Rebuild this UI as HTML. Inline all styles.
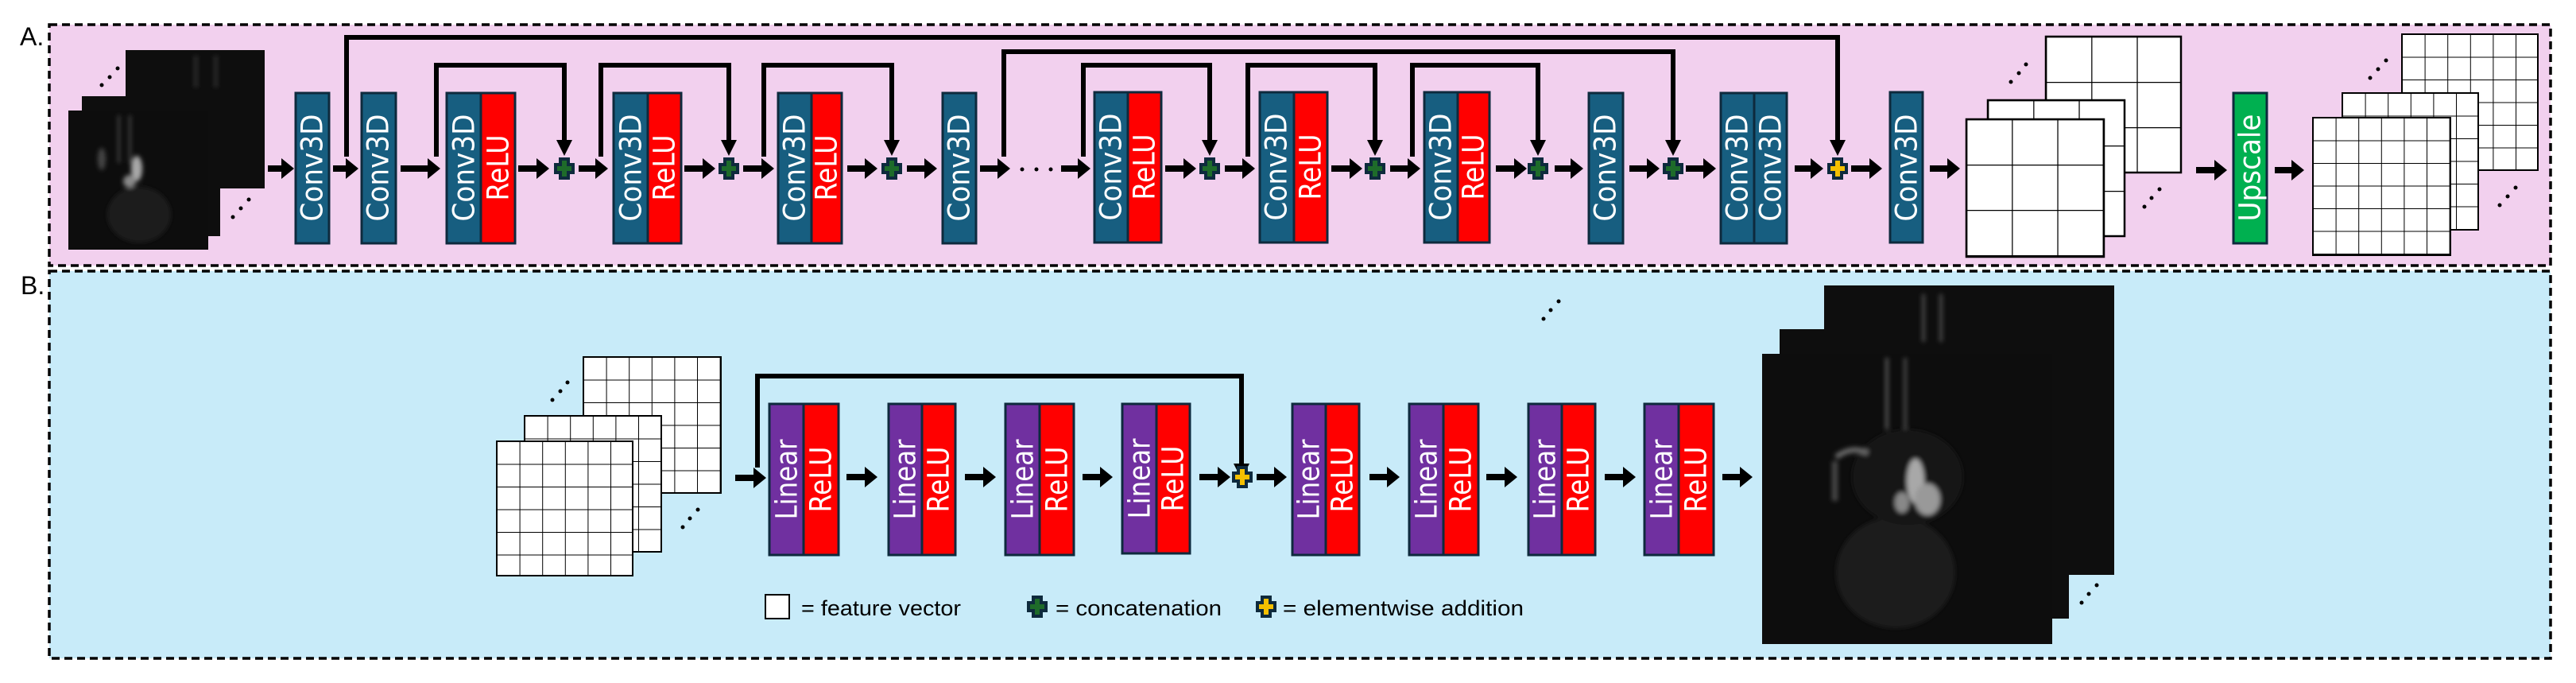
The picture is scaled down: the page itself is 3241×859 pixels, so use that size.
<!DOCTYPE html>
<html><head><meta charset="utf-8"><style>
html,body{margin:0;padding:0;background:#fff;}
svg{display:block;}
.bt{font-family:"DejaVu Sans","Liberation Sans",sans-serif;font-size:37px;fill:#fff;}
.lg{font-family:"Liberation Sans Narrow","Liberation Sans",sans-serif;font-size:27px;fill:#000;}
</style></head><body>
<svg width="3241" height="859" viewBox="0 0 3241 859" xmlns="http://www.w3.org/2000/svg">
<defs>
<marker id="ah" markerUnits="userSpaceOnUse" markerWidth="16" markerHeight="26" refX="0" refY="13" orient="auto"><path d="M0,0 L16,13 L0,26 z" fill="#000"/></marker>
<marker id="ad" markerUnits="userSpaceOnUse" markerWidth="20" markerHeight="20" refX="0" refY="10" orient="auto"><path d="M0,0 L20,10 L0,20 z" fill="#000"/></marker>
<g id="pg"><rect x="-7" y="-14" width="14" height="28" fill="#0e2a3d"/><rect x="-13" y="-7" width="26" height="14" fill="#0e2a3d"/><rect x="-3" y="-10" width="6" height="20" fill="#1e6b2a"/><rect x="-9" y="-3" width="18" height="6" fill="#1e6b2a"/></g>
<g id="py"><rect x="-7" y="-14" width="14" height="28" fill="#0e2a3d"/><rect x="-13" y="-7" width="26" height="14" fill="#0e2a3d"/><rect x="-3" y="-10" width="6" height="20" fill="#f5c000"/><rect x="-9" y="-3" width="18" height="6" fill="#f5c000"/></g>
<pattern id="g3" patternUnits="userSpaceOnUse" width="57.2" height="57"><path d="M0 0H57.2M0 0V57" stroke="#000" stroke-width="2.5" fill="none"/></pattern>
<pattern id="g6" patternUnits="userSpaceOnUse" width="28.6" height="28.5"><path d="M0 0H28.6M0 0V28.5" stroke="#000" stroke-width="2" fill="none"/></pattern>
<filter id="bl"><feGaussianBlur stdDeviation="3"/></filter>
</defs>

<!-- panels -->
<rect x="62" y="31" width="3147" height="303" fill="#f2d0ee" stroke="#000" stroke-width="3.5" stroke-dasharray="10 6"/>
<rect x="62" y="341" width="3147" height="487" fill="#c8ebf9" stroke="#000" stroke-width="3.5" stroke-dasharray="10 6"/>
<text x="25" y="57" font-family="Liberation Sans Narrow, Liberation Sans, sans-serif" font-size="32">A.</text>
<text x="26" y="370" font-family="Liberation Sans, sans-serif" font-size="32">B.</text>

<!-- Panel A input MRI stack -->
<rect x="158" y="63" width="175" height="174" fill="#0e0e0e"/>
<rect x="103" y="121" width="174" height="176" fill="#0e0e0e"/>
<rect x="86" y="139" width="176" height="175" fill="#0d0d0d"/>
<g filter="url(#bl)">
<ellipse cx="175" cy="270" rx="40" ry="35" fill="#1b1b1b"/>
<ellipse cx="172" cy="212" rx="7" ry="16" fill="#a8a8a8"/>
<ellipse cx="163" cy="228" rx="8" ry="8" fill="#888"/>
<rect x="148" y="145" width="3" height="60" fill="#444"/>
<rect x="162" y="145" width="3" height="60" fill="#444"/>
<rect x="245" y="70" width="3" height="40" fill="#3a3a3a"/>
<rect x="270" y="70" width="3" height="40" fill="#3a3a3a"/>
<ellipse cx="128" cy="200" rx="5" ry="14" fill="#444"/>
</g>
<circle cx="128" cy="107" r="2.5"/><circle cx="138" cy="97" r="2.5"/><circle cx="148" cy="86" r="2.5"/>
<circle cx="293" cy="273" r="2.5"/><circle cx="303" cy="262" r="2.5"/><circle cx="313" cy="251" r="2.5"/>

<!-- skip connections panel A -->
<g fill="none" stroke="#000" stroke-width="6">
<path d="M436 197V47H2312V176" marker-end="url(#ad)"/>
<path d="M1263 197V65H2105V176" marker-end="url(#ad)"/>
<path d="M549 197V82H710V176" marker-end="url(#ad)"/>
<path d="M756 197V82H917V176" marker-end="url(#ad)"/>
<path d="M961 197V82H1122V176" marker-end="url(#ad)"/>
<path d="M1363 197V82H1522V176" marker-end="url(#ad)"/>
<path d="M1570 197V82H1730V176" marker-end="url(#ad)"/>
<path d="M1777 197V82H1935V176" marker-end="url(#ad)"/>
</g>

<!-- arrows panel A -->
<g stroke="#000" stroke-width="8" marker-end="url(#ah)">
<line x1="337" y1="212" x2="354" y2="212"/>
<line x1="419" y1="212" x2="435" y2="212"/>
<line x1="504" y1="212" x2="538" y2="212"/>
<line x1="652" y1="212" x2="675" y2="212"/>
<line x1="728" y1="212" x2="749" y2="212"/>
<line x1="861" y1="212" x2="884" y2="212"/>
<line x1="935" y1="212" x2="958" y2="212"/>
<line x1="1066" y1="212" x2="1088" y2="212"/>
<line x1="1141" y1="212" x2="1163" y2="212"/>
<line x1="1233" y1="212" x2="1255" y2="212"/>
<line x1="1335" y1="212" x2="1356" y2="212"/>
<line x1="1466" y1="212" x2="1489" y2="212"/>
<line x1="1541" y1="212" x2="1563" y2="212"/>
<line x1="1675" y1="212" x2="1698" y2="212"/>
<line x1="1749" y1="212" x2="1771" y2="212"/>
<line x1="1882" y1="212" x2="1905" y2="212"/>
<line x1="1956" y1="212" x2="1976" y2="212"/>
<line x1="2050" y1="212" x2="2072" y2="212"/>
<line x1="2121" y1="212" x2="2143" y2="212"/>
<line x1="2258" y1="212" x2="2278" y2="212"/>
<line x1="2329" y1="212" x2="2352" y2="212"/>
<line x1="2428" y1="212" x2="2450" y2="212"/>
<line x1="2763" y1="214" x2="2786" y2="214"/>
<line x1="2862" y1="214" x2="2883" y2="214"/>
</g>
<circle cx="1286" cy="213" r="2.5"/><circle cx="1304" cy="213" r="2.5"/><circle cx="1322" cy="213" r="2.5"/>

<!-- plus signs A -->
<use href="#pg" transform="translate(710,212)"/>
<use href="#pg" transform="translate(917,212)"/>
<use href="#pg" transform="translate(1122,212)"/>
<use href="#pg" transform="translate(1522,212)"/>
<use href="#pg" transform="translate(1730,212)"/>
<use href="#pg" transform="translate(1935,212)"/>
<use href="#pg" transform="translate(2105,212)"/>
<use href="#py" transform="translate(2312,212)"/>

<!-- Conv3D single blocks -->
<g>
<rect x="372" y="117" width="42" height="189" fill="#175e80" stroke="#0e2a3d" stroke-width="3"/>
<text class="bt" text-anchor="middle" dominant-baseline="central" textLength="135" lengthAdjust="spacingAndGlyphs" transform="translate(393,211) rotate(-90)">Conv3D</text>
<rect x="455" y="117" width="43" height="189" fill="#175e80" stroke="#0e2a3d" stroke-width="3"/>
<text class="bt" text-anchor="middle" dominant-baseline="central" textLength="135" lengthAdjust="spacingAndGlyphs" transform="translate(476,211) rotate(-90)">Conv3D</text>
<rect x="1186" y="117" width="42" height="189" fill="#175e80" stroke="#0e2a3d" stroke-width="3"/>
<text class="bt" text-anchor="middle" dominant-baseline="central" textLength="135" lengthAdjust="spacingAndGlyphs" transform="translate(1207,211) rotate(-90)">Conv3D</text>
<rect x="1999" y="117" width="43" height="189" fill="#175e80" stroke="#0e2a3d" stroke-width="3"/>
<text class="bt" text-anchor="middle" dominant-baseline="central" textLength="135" lengthAdjust="spacingAndGlyphs" transform="translate(2020,211) rotate(-90)">Conv3D</text>
<rect x="2378" y="116" width="41" height="189" fill="#175e80" stroke="#0e2a3d" stroke-width="3"/>
<text class="bt" text-anchor="middle" dominant-baseline="central" textLength="135" lengthAdjust="spacingAndGlyphs" transform="translate(2399,211) rotate(-90)">Conv3D</text>
<rect x="2165" y="117" width="42" height="189" fill="#175e80" stroke="#0e2a3d" stroke-width="3"/>
<text class="bt" text-anchor="middle" dominant-baseline="central" textLength="135" lengthAdjust="spacingAndGlyphs" transform="translate(2186,211) rotate(-90)">Conv3D</text>
<rect x="2207" y="117" width="41" height="189" fill="#175e80" stroke="#0e2a3d" stroke-width="3"/>
<text class="bt" text-anchor="middle" dominant-baseline="central" textLength="135" lengthAdjust="spacingAndGlyphs" transform="translate(2228,211) rotate(-90)">Conv3D</text>
<rect x="2810" y="117" width="42" height="189" fill="#00b050" stroke="#0e2a3d" stroke-width="3"/>
<text class="bt" text-anchor="middle" dominant-baseline="central" textLength="135" lengthAdjust="spacingAndGlyphs" transform="translate(2831,211) rotate(-90)">Upscale</text>
</g>

<!-- Conv3D+ReLU blocks -->
<g>
<rect x="562" y="117" width="43" height="189" fill="#175e80" stroke="#0e2a3d" stroke-width="3"/><rect x="605" y="117" width="43" height="189" fill="#ff0000" stroke="#0e2a3d" stroke-width="3"/>
<text class="bt" text-anchor="middle" dominant-baseline="central" textLength="135" lengthAdjust="spacingAndGlyphs" transform="translate(584,211) rotate(-90)">Conv3D</text><text class="bt" text-anchor="middle" dominant-baseline="central" textLength="83" lengthAdjust="spacingAndGlyphs" transform="translate(627,211) rotate(-90)">ReLU</text>
<rect x="772" y="117" width="43" height="189" fill="#175e80" stroke="#0e2a3d" stroke-width="3"/><rect x="815" y="117" width="42" height="189" fill="#ff0000" stroke="#0e2a3d" stroke-width="3"/>
<text class="bt" text-anchor="middle" dominant-baseline="central" textLength="135" lengthAdjust="spacingAndGlyphs" transform="translate(794,211) rotate(-90)">Conv3D</text><text class="bt" text-anchor="middle" dominant-baseline="central" textLength="83" lengthAdjust="spacingAndGlyphs" transform="translate(836,211) rotate(-90)">ReLU</text>
<rect x="979" y="117" width="42" height="189" fill="#175e80" stroke="#0e2a3d" stroke-width="3"/><rect x="1021" y="117" width="38" height="189" fill="#ff0000" stroke="#0e2a3d" stroke-width="3"/>
<text class="bt" text-anchor="middle" dominant-baseline="central" textLength="135" lengthAdjust="spacingAndGlyphs" transform="translate(1000,211) rotate(-90)">Conv3D</text><text class="bt" text-anchor="middle" dominant-baseline="central" textLength="83" lengthAdjust="spacingAndGlyphs" transform="translate(1040,211) rotate(-90)">ReLU</text>
<rect x="1377" y="116" width="42" height="189" fill="#175e80" stroke="#0e2a3d" stroke-width="3"/><rect x="1419" y="116" width="42" height="189" fill="#ff0000" stroke="#0e2a3d" stroke-width="3"/>
<text class="bt" text-anchor="middle" dominant-baseline="central" textLength="135" lengthAdjust="spacingAndGlyphs" transform="translate(1398,210) rotate(-90)">Conv3D</text><text class="bt" text-anchor="middle" dominant-baseline="central" textLength="83" lengthAdjust="spacingAndGlyphs" transform="translate(1440,210) rotate(-90)">ReLU</text>
<rect x="1585" y="116" width="43" height="189" fill="#175e80" stroke="#0e2a3d" stroke-width="3"/><rect x="1628" y="116" width="42" height="189" fill="#ff0000" stroke="#0e2a3d" stroke-width="3"/>
<text class="bt" text-anchor="middle" dominant-baseline="central" textLength="135" lengthAdjust="spacingAndGlyphs" transform="translate(1606,210) rotate(-90)">Conv3D</text><text class="bt" text-anchor="middle" dominant-baseline="central" textLength="83" lengthAdjust="spacingAndGlyphs" transform="translate(1649,210) rotate(-90)">ReLU</text>
<rect x="1792" y="116" width="42" height="189" fill="#175e80" stroke="#0e2a3d" stroke-width="3"/><rect x="1834" y="116" width="40" height="189" fill="#ff0000" stroke="#0e2a3d" stroke-width="3"/>
<text class="bt" text-anchor="middle" dominant-baseline="central" textLength="135" lengthAdjust="spacingAndGlyphs" transform="translate(1813,210) rotate(-90)">Conv3D</text><text class="bt" text-anchor="middle" dominant-baseline="central" textLength="83" lengthAdjust="spacingAndGlyphs" transform="translate(1854,210) rotate(-90)">ReLU</text>
</g>

<!-- grids panel A -->
<g transform="translate(2574,46)"><rect width="170" height="171" fill="#fff"/><rect width="170" height="171" fill="url(#g3)" stroke="#000" stroke-width="2.5"/></g>
<g transform="translate(2501,126)"><rect width="172" height="171" fill="#fff"/><rect width="172" height="171" fill="url(#g3)" stroke="#000" stroke-width="2.5"/></g>
<g transform="translate(2474,150)"><rect width="173" height="173" fill="#fff"/><rect width="173" height="173" fill="url(#g3)" stroke="#000" stroke-width="2.5"/></g>
<circle cx="2530" cy="103" r="2.5"/><circle cx="2540" cy="92" r="2.5"/><circle cx="2549" cy="81" r="2.5"/>
<circle cx="2698" cy="260" r="2.5"/><circle cx="2707" cy="249" r="2.5"/><circle cx="2717" cy="238" r="2.5"/>
<g transform="translate(3022,43)"><rect width="171" height="171" fill="#fff"/><rect width="171" height="171" fill="url(#g6)" stroke="#000" stroke-width="2"/></g>
<g transform="translate(2947,117)"><rect width="171" height="172" fill="#fff"/><rect width="171" height="172" fill="url(#g6)" stroke="#000" stroke-width="2"/></g>
<g transform="translate(2910,148)"><rect width="173" height="173" fill="#fff"/><rect width="173" height="173" fill="url(#g6)" stroke="#000" stroke-width="2"/></g>
<circle cx="2982" cy="98" r="2.5"/><circle cx="2992" cy="87" r="2.5"/><circle cx="3002" cy="76" r="2.5"/>
<circle cx="3145" cy="258" r="2.5"/><circle cx="3155" cy="247" r="2.5"/><circle cx="3165" cy="236" r="2.5"/>

<!-- ============ Panel B ============ -->
<g transform="translate(734,449)"><rect width="173" height="171" fill="#fff"/><rect width="173" height="171" fill="url(#g6)" stroke="#000" stroke-width="2"/></g>
<g transform="translate(660,523)"><rect width="172" height="171" fill="#fff"/><rect width="172" height="171" fill="url(#g6)" stroke="#000" stroke-width="2"/></g>
<g transform="translate(625,555)"><rect width="171" height="169" fill="#fff"/><rect width="171" height="169" fill="url(#g6)" stroke="#000" stroke-width="2"/></g>
<circle cx="695" cy="503" r="2.5"/><circle cx="705" cy="492" r="2.5"/><circle cx="714" cy="481" r="2.5"/>
<circle cx="859" cy="663" r="2.5"/><circle cx="868" cy="652" r="2.5"/><circle cx="878" cy="641" r="2.5"/>

<path d="M953 588V473H1562V583" fill="none" stroke="#000" stroke-width="6" marker-end="url(#ad)"/>
<use href="#py" transform="translate(1563,600)"/>

<g stroke="#000" stroke-width="8" marker-end="url(#ah)">
<line x1="925" y1="601" x2="948" y2="601"/>
<line x1="1065" y1="600" x2="1088" y2="600"/>
<line x1="1214" y1="600" x2="1237" y2="600"/>
<line x1="1362" y1="600" x2="1384" y2="600"/>
<line x1="1509" y1="600" x2="1532" y2="600"/>
<line x1="1581" y1="600" x2="1603" y2="600"/>
<line x1="1723" y1="600" x2="1745" y2="600"/>
<line x1="1870" y1="600" x2="1893" y2="600"/>
<line x1="2019" y1="600" x2="2042" y2="600"/>
<line x1="2167" y1="600" x2="2189" y2="600"/>
</g>

<g>
<rect x="968" y="508" width="43" height="190" fill="#7030a0" stroke="#0e2a3d" stroke-width="3"/><rect x="1011" y="508" width="44" height="190" fill="#ff0000" stroke="#0e2a3d" stroke-width="3"/>
<text class="bt" text-anchor="middle" dominant-baseline="central" textLength="101" lengthAdjust="spacingAndGlyphs" transform="translate(990,603) rotate(-90)">Linear</text><text class="bt" text-anchor="middle" dominant-baseline="central" textLength="83" lengthAdjust="spacingAndGlyphs" transform="translate(1033,603) rotate(-90)">ReLU</text>
<rect x="1118" y="508" width="42" height="190" fill="#7030a0" stroke="#0e2a3d" stroke-width="3"/><rect x="1160" y="508" width="42" height="190" fill="#ff0000" stroke="#0e2a3d" stroke-width="3"/>
<text class="bt" text-anchor="middle" dominant-baseline="central" textLength="101" lengthAdjust="spacingAndGlyphs" transform="translate(1139,603) rotate(-90)">Linear</text><text class="bt" text-anchor="middle" dominant-baseline="central" textLength="83" lengthAdjust="spacingAndGlyphs" transform="translate(1181,603) rotate(-90)">ReLU</text>
<rect x="1265" y="508" width="43" height="190" fill="#7030a0" stroke="#0e2a3d" stroke-width="3"/><rect x="1308" y="508" width="43" height="190" fill="#ff0000" stroke="#0e2a3d" stroke-width="3"/>
<text class="bt" text-anchor="middle" dominant-baseline="central" textLength="101" lengthAdjust="spacingAndGlyphs" transform="translate(1287,603) rotate(-90)">Linear</text><text class="bt" text-anchor="middle" dominant-baseline="central" textLength="83" lengthAdjust="spacingAndGlyphs" transform="translate(1330,603) rotate(-90)">ReLU</text>
<rect x="1412" y="508" width="43" height="188" fill="#7030a0" stroke="#0e2a3d" stroke-width="3"/><rect x="1455" y="508" width="42" height="188" fill="#ff0000" stroke="#0e2a3d" stroke-width="3"/>
<text class="bt" text-anchor="middle" dominant-baseline="central" textLength="101" lengthAdjust="spacingAndGlyphs" transform="translate(1434,602) rotate(-90)">Linear</text><text class="bt" text-anchor="middle" dominant-baseline="central" textLength="83" lengthAdjust="spacingAndGlyphs" transform="translate(1476,602) rotate(-90)">ReLU</text>
<rect x="1626" y="508" width="42" height="190" fill="#7030a0" stroke="#0e2a3d" stroke-width="3"/><rect x="1668" y="508" width="42" height="190" fill="#ff0000" stroke="#0e2a3d" stroke-width="3"/>
<text class="bt" text-anchor="middle" dominant-baseline="central" textLength="101" lengthAdjust="spacingAndGlyphs" transform="translate(1647,603) rotate(-90)">Linear</text><text class="bt" text-anchor="middle" dominant-baseline="central" textLength="83" lengthAdjust="spacingAndGlyphs" transform="translate(1689,603) rotate(-90)">ReLU</text>
<rect x="1773" y="508" width="43" height="190" fill="#7030a0" stroke="#0e2a3d" stroke-width="3"/><rect x="1816" y="508" width="44" height="190" fill="#ff0000" stroke="#0e2a3d" stroke-width="3"/>
<text class="bt" text-anchor="middle" dominant-baseline="central" textLength="101" lengthAdjust="spacingAndGlyphs" transform="translate(1795,603) rotate(-90)">Linear</text><text class="bt" text-anchor="middle" dominant-baseline="central" textLength="83" lengthAdjust="spacingAndGlyphs" transform="translate(1838,603) rotate(-90)">ReLU</text>
<rect x="1923" y="508" width="42" height="190" fill="#7030a0" stroke="#0e2a3d" stroke-width="3"/><rect x="1965" y="508" width="42" height="190" fill="#ff0000" stroke="#0e2a3d" stroke-width="3"/>
<text class="bt" text-anchor="middle" dominant-baseline="central" textLength="101" lengthAdjust="spacingAndGlyphs" transform="translate(1944,603) rotate(-90)">Linear</text><text class="bt" text-anchor="middle" dominant-baseline="central" textLength="83" lengthAdjust="spacingAndGlyphs" transform="translate(1986,603) rotate(-90)">ReLU</text>
<rect x="2069" y="508" width="43" height="190" fill="#7030a0" stroke="#0e2a3d" stroke-width="3"/><rect x="2112" y="508" width="44" height="190" fill="#ff0000" stroke="#0e2a3d" stroke-width="3"/>
<text class="bt" text-anchor="middle" dominant-baseline="central" textLength="101" lengthAdjust="spacingAndGlyphs" transform="translate(2091,603) rotate(-90)">Linear</text><text class="bt" text-anchor="middle" dominant-baseline="central" textLength="83" lengthAdjust="spacingAndGlyphs" transform="translate(2134,603) rotate(-90)">ReLU</text>
</g>

<!-- output MRI stack -->
<rect x="2295" y="359" width="365" height="364" fill="#0e0e0e"/>
<rect x="2239" y="414" width="364" height="364" fill="#0e0e0e"/>
<rect x="2217" y="445" width="365" height="365" fill="#0d0d0d"/>
<g filter="url(#bl)">
<ellipse cx="2385" cy="720" rx="75" ry="70" fill="#1a1a1a"/>
<ellipse cx="2400" cy="600" rx="70" ry="60" fill="#151515"/>
<ellipse cx="2410" cy="605" rx="11" ry="28" fill="#a8a8a8"/>
<ellipse cx="2425" cy="628" rx="16" ry="20" fill="#999"/>
<ellipse cx="2393" cy="632" rx="9" ry="13" fill="#888"/>
<path d="M2310 575 Q2330 560 2350 570" stroke="#666" stroke-width="7" fill="none"/>
<rect x="2305" y="580" width="7" height="50" fill="#4a4a4a"/>
<rect x="2372" y="450" width="4" height="90" fill="#555"/>
<rect x="2395" y="450" width="4" height="90" fill="#4a4a4a"/>
<rect x="2418" y="370" width="4" height="60" fill="#4a4a4a"/>
<rect x="2440" y="370" width="4" height="60" fill="#4a4a4a"/>
</g>
<circle cx="1942" cy="401" r="2.5"/><circle cx="1951" cy="390" r="2.5"/><circle cx="1961" cy="379" r="2.5"/>
<circle cx="2619" cy="758" r="2.5"/><circle cx="2628" cy="747" r="2.5"/><circle cx="2638" cy="736" r="2.5"/>

<!-- legend -->
<rect x="963" y="748" width="30" height="30" fill="#fff" stroke="#000" stroke-width="2"/>
<text class="lg" x="1008" y="774" textLength="201" lengthAdjust="spacingAndGlyphs">= feature vector</text>
<use href="#pg" transform="translate(1305,763)"/>
<text class="lg" x="1328" y="774" textLength="209" lengthAdjust="spacingAndGlyphs">= concatenation</text>
<use href="#py" transform="translate(1593,763)"/>
<text class="lg" x="1614" y="774" textLength="303" lengthAdjust="spacingAndGlyphs">= elementwise addition</text>
</svg>
</body></html>
